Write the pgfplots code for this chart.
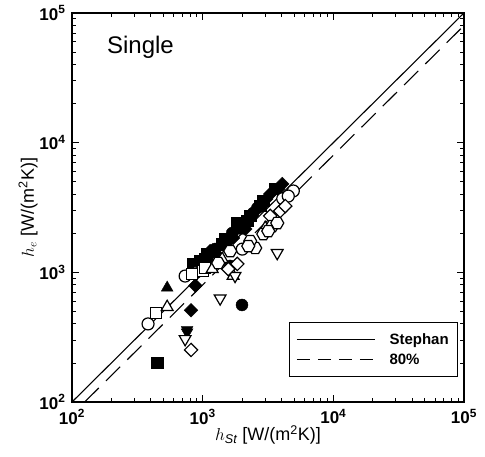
\documentclass[border=0pt]{standalone}
\usepackage{pgfplots}
\pgfplotsset{compat=1.18}
\usepackage{fontspec}
\setmainfont{Liberation Sans}

\pgfdeclareplotmark{hexagon}{%
  \pgfpathmoveto{\pgfqpointpolar{0}{\pgfplotmarksize}}%
  \pgfpathlineto{\pgfqpointpolar{60}{\pgfplotmarksize}}%
  \pgfpathlineto{\pgfqpointpolar{120}{\pgfplotmarksize}}%
  \pgfpathlineto{\pgfqpointpolar{180}{\pgfplotmarksize}}%
  \pgfpathlineto{\pgfqpointpolar{240}{\pgfplotmarksize}}%
  \pgfpathlineto{\pgfqpointpolar{300}{\pgfplotmarksize}}%
  \pgfpathclose
  \pgfusepathqfillstroke}

\begin{document}
\begin{tikzpicture}
\begin{axis}[
  at={(0,0)}, anchor=south west,
  scale only axis, width=392pt, height=389pt,
  xmode=log, ymode=log,
  xmin=100, xmax=100000, ymin=100, ymax=100000,
  xtick={100,1000,10000,100000},
  ytick={100,1000,10000,100000},
  xticklabels={10\textsuperscript{2},10\textsuperscript{3},10\textsuperscript{4},10\textsuperscript{5}},
  yticklabels={10\textsuperscript{2},10\textsuperscript{3},10\textsuperscript{4},10\textsuperscript{5}},
  minor xtick={200,300,400,500,600,700,800,900,2000,3000,4000,5000,6000,7000,8000,9000,20000,30000,40000,50000,60000,70000,80000,90000},
  minor ytick={200,300,400,500,600,700,800,900,2000,3000,4000,5000,6000,7000,8000,9000,20000,30000,40000,50000,60000,70000,80000,90000},
  tick align=inside,
  major tick length=7pt, minor tick length=4pt,
  every tick/.style={black, line width=0.9pt},
  axis line style={line width=1.3pt},
  tick label style={font=\bfseries\fontsize{17}{20}\selectfont},
  xticklabel style={yshift=-4pt},
  yticklabel style={xshift=-3pt},
  xlabel={$h_{\mathit{St}}$ [W/(m\textsuperscript{2}K)]},
  ylabel={$h_{e}$ [W/(m\textsuperscript{2}K)]},
  label style={font=\fontsize{18}{21}\selectfont},
  xlabel style={at={(axis description cs:0.5,-0.1)}, anchor=base},
  ylabel style={at={(axis description cs:-0.112,0.5)}, anchor=center},
  legend style={at={(0.985,0.064)}, anchor=south east, draw=black, line width=0.8pt,
    font=\bfseries\fontsize{15}{18}\selectfont, inner xsep=7pt, inner ysep=9pt,
    row sep=4pt, column sep=12pt, legend cell align=left},
  legend image code/.code={\draw[#1] (0pt,0pt) -- (78pt,0pt);},
]
% filled squares
\addplot[only marks, mark=square*, mark size=5.6pt, black, forget plot] coordinates {
(448,200) (845,1160) (1045,1270) (1080,1380) (1410,1650) (1840,2400) (2310,2720) (2910,3550) (3590,4390)
(957,1222) (1486,1806) (2193,2487) (2758,3243)};
% filled diamonds
\addplot[only marks, mark=square*, mark size=4.8pt, mark options={rotate=45}, black, forget plot] coordinates {
(815,510) (880,790) (1140,1460) (2120,2160) (3290,4020) (4070,4800) (1710,1840)
(1314,1336) (1938,2234) (3069,3675) (3793,4387)};
% filled circles
\addplot[only marks, mark=*, mark size=6pt, black, forget plot] coordinates {
(2000,560) (1540,1740) (1620,1120) (2620,3130) (1247,1513) (1683,2009) (2438,2866)};
% filled triangles
\addplot[only marks, mark=triangle*, mark size=6.8pt, black, forget plot] coordinates {
(535,760) (1940,2080)};
% filled inverted triangles
\addplot[only marks, mark=triangle*, mark size=6.8pt, mark options={rotate=180}, black, forget plot] coordinates {
(760,360) (760,345)};
% open circles
\addplot[only marks, mark=*, mark size=6pt, mark options={fill=white, line width=1.2pt}, black, forget plot] coordinates {
(382,400) (734,936) (877,990) (2010,1510) (4100,3700) (4940,4240) (4519,3873)};
% open squares
\addplot[only marks, mark=square*, mark size=5.5pt, mark options={fill=white, line width=1.2pt}, black, forget plot] coordinates {
(440,485) (830,970) (1009,1023) (1045,1079)};
% open triangles
\addplot[only marks, mark=triangle*, mark size=6.8pt, mark options={fill=white, line width=1.2pt}, black, forget plot] coordinates {
(535,540) (1183,1060) (1710,940) (3010,2200) (1410,1267)};
% open inverted triangles
\addplot[only marks, mark=triangle*, mark size=6.8pt, mark options={rotate=180, fill=white, line width=1.2pt}, black, forget plot] coordinates {
(734,306) (1360,630) (3720,1410) (1770,940)};
% open diamonds
\addplot[only marks, mark=square*, mark size=4.7pt, mark options={rotate=45, fill=white, line width=1.2pt}, black, forget plot] coordinates {
(815,252) (1840,1160) (3920,2970) (3290,2720) (1570,1060) (4288,3243)};
% open hexagons
\addplot[only marks, mark=hexagon, mark size=6.5pt, mark options={fill=white, line width=1.2pt}, black, forget plot] coordinates {
(1314,1180) (1625,1459) (2525,1540) (2910,1974) (3410,2275) (3724,2400) (2312,1742) (2234,1595) (3177,2081)};
% lines
\addplot[black, line width=1.1pt] coordinates {(100,100) (100000,100000)};
\addlegendentry{Stephan}
\addplot[black, line width=1.1pt, dash pattern=on 20pt off 10pt,
  legend image code/.code={\draw[black, line width=1.1pt, dash pattern=on 13pt off 8pt] (0pt,0pt) -- (78pt,0pt);}]
  coordinates {(125,100) (100000,80000)};
\addlegendentry{80\%}
\node[anchor=base west, inner sep=0pt, font=\fontsize{24}{28}\selectfont] at (rel axis cs:0.089,0.895) {Single};
\end{axis}
\pgfresetboundingbox
\path[use as bounding box] (-72pt,-55pt) rectangle (413pt,402pt);
\end{tikzpicture}
\end{document}
